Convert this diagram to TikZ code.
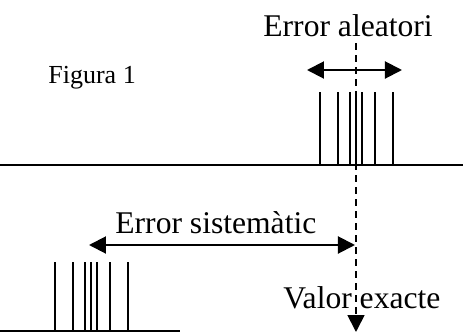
\documentclass[tikz,border=0pt]{standalone}
\usepackage{fontspec}
\setmainfont{Liberation Serif}
\usetikzlibrary{arrows.meta}

\tikzset{
  bigtxt/.style={anchor=base west, inner sep=0pt, font=\fontsize{15.8}{18}\selectfont},
  smalltxt/.style={anchor=base west, inner sep=0pt, font=\fontsize{13}{15}\selectfont},
  bar/.style={line width=0.9pt},
  span/.style={line width=1pt, {Triangle[length=8.5pt,width=8.5pt]}-{Triangle[length=8.5pt,width=8.5pt]}},
}

\begin{document}
\begin{tikzpicture}[x=0.5pt, y=-0.5pt]
\useasboundingbox (0,0) rectangle (463,333);
% axes
\draw[bar] (0,165) -- (463,165); % top axis
\draw[bar] (0,331) -- (180,331); % bottom axis
% measurements
\foreach \dx in {-36,-18,-6,0,6,19,37} {
  \draw[bar] (356+\dx,165) -- (356+\dx,92); % top group
  \draw[bar] (91+\dx,331) -- (91+\dx,262); % bottom group
}
% labels
\node[smalltxt] (fig) at (48,83) {Figura 1};
\node[bigtxt] (aleat) at (263,36) {Error aleatori};
\node[bigtxt] (sistem) at (115,233) {Error sistemàtic};
\node[bigtxt] (exacte) at (283,308) {Valor exacte};
% connectors
\coordinate (al-l) at (307,70);
\coordinate (al-r) at (402,70);
\coordinate (si-l) at (89,245);
\coordinate (si-r) at (355,245);
\coordinate (ex-top) at (356,43);
\coordinate (ex-bot) at (356,332);
\draw[span] (al-l) -- (al-r); % random spread
\draw[span] (si-l) -- (si-r); % systematic offset
\draw[line width=0.9pt, dash pattern=on 3.5pt off 2.5pt, -{Triangle[length=8.5pt,width=8.5pt]}] (ex-top) -- (ex-bot); % exact value
\end{tikzpicture}
\end{document}
